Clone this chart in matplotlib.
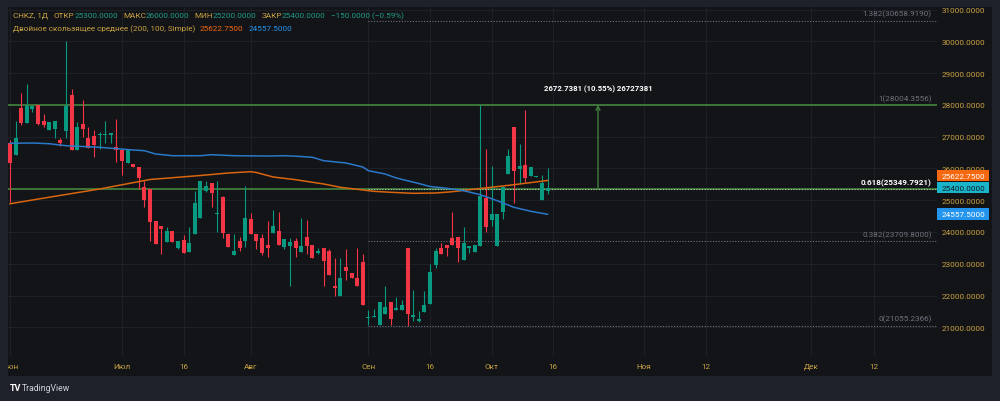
import matplotlib
matplotlib.use("Agg")
import matplotlib.pyplot as plt
import numpy as np
from matplotlib.patches import Rectangle

plt.rcParams['font.family'] = ['Roboto', 'DejaVu Sans']

# ---------------- data ----------------
opens = [26802, 26434, 27904, 27432, 27883, 27999, 27495, 27222, 27243, 26896,
         27190, 28314, 26593, 27400, 26959, 27012, 27043, 27054, 27064, 26687,
         26593, 26183, 26152, 26035, 25405, 25354, 24336, 24189, 23685, 24042,
         23485, 23748, 23380, 23935, 24430, 25281, 25553, 24556, 25102, 23935,
         23286, 23706, 23727, 24399, 23935, 23800, 23590, 23977, 24030, 23536,
         23569, 23706, 23380, 23830, 23590, 23339, 23496, 23391, 22299, 21974,
         22898, 22709, 22541, 23055, 21281, 21313, 21060, 21418, 21785, 21554,
         21554, 23496, 21313, 21208, 21470, 21722, 22960, 23496, 23601, 23800,
         23853, 23128, 23496, 23380, 23569, 25060, 24378, 23569, 24619, 25826,
         27295, 25983, 26110, 25773, 25720, 25018, 25300]
highs = [26896, 27484, 28366, 28660, 27978, 27999, 27705, 27453, 27495, 26959,
         30025, 28503, 27453, 28167, 27295, 27211, 27159, 27495, 27106, 27558,
         26593, 26582, 26152, 26035, 25615, 25354, 24336, 24189, 24147, 24042,
         23727, 23905, 24168, 25301, 25615, 25615, 25553, 25615, 25144, 23935,
         23935, 23830, 25448, 24598, 23935, 23935, 24336, 24703, 24640, 23789,
         23800, 23800, 24441, 24388, 23590, 23485, 23496, 23464, 23181, 23181,
         23464, 22709, 23496, 23307, 21544, 21575, 21785, 22289, 21785, 21942,
         21858, 23496, 22184, 21502, 22153, 22990, 23496, 23643, 23601, 24640,
         23853, 24168, 23548, 23590, 28004, 26613, 26089, 24556, 25405, 26613,
         27295, 26770, 27841, 26035, 25752, 25794, 26000]
lows = [24934, 26434, 27379, 27432, 27768, 27369, 27295, 27211, 26970, 26697,
        26970, 26593, 26593, 27001, 26634, 26371, 26613, 26802, 26802, 26214,
        25804, 26183, 26035, 25354, 24796, 23706, 23621, 23307, 23685, 23685,
        23464, 23328, 23380, 23935, 24430, 25249, 24796, 23998, 23809, 23536,
        23286, 23410, 23515, 23925, 23464, 23286, 23202, 23977, 23580, 23464,
        22310, 23202, 23359, 23307, 23170, 23307, 22310, 22645, 21995, 21974,
        22499, 22541, 22289, 21712, 21060, 21313, 21060, 21418, 21070, 21554,
        21554, 21055, 21187, 21155, 21470, 21722, 22855, 23307, 23254, 23601,
        23066, 23128, 23339, 23380, 23569, 23989, 24199, 23569, 24409, 25826,
        24912, 25543, 25564, 25773, 25720, 25018, 25200]
closes = [26172, 26959, 27421, 27978, 27978, 27390, 27369, 27453, 27495, 26791,
          27978, 26593, 27295, 27243, 26634, 26739, 27064, 27085, 27106, 26593,
          26225, 26582, 26035, 25699, 25018, 24325, 23621, 24093, 24042, 23685,
          23706, 23328, 23643, 24912, 25615, 25448, 25228, 24588, 23977, 23536,
          23391, 23496, 24441, 23925, 23706, 23328, 23485, 24189, 23580, 23789,
          23695, 23485, 23548, 23569, 23170, 23391, 23096, 22645, 22236, 22541,
          22772, 22541, 22289, 21712, 21334, 21355, 21785, 21649, 21260, 21607,
          21701, 21418, 21386, 21260, 21701, 22751, 23391, 23307, 23485, 23601,
          23485, 23643, 23548, 23590, 25134, 24168, 24556, 24556, 25405, 26403,
          25909, 26089, 25690, 26035, 25752, 25543, 25400]

# moving averages (read at sample bars)
ma_slow_idx = [0, 7, 16, 25, 34, 39, 43, 44, 47, 51, 56, 59, 62, 65, 68, 72, 76, 79, 82, 84, 90, 96]
ma_slow = [24890, 25095, 25354, 25653, 25779, 25858, 25899, 25873, 25732, 25647, 25512, 25407,
           25344, 25281, 25250, 25218, 25228, 25269, 25332, 25370, 25489, 25622.75]
ma_fast_idx = [0, 4, 7, 10, 16, 22, 24, 26, 29, 34, 36, 40, 46, 49, 52, 54, 56, 60, 63, 64, 67,
               69, 73, 75, 78, 81, 84, 87, 90, 93, 96]
ma_fast = [26793, 26802, 26780, 26717, 26667, 26582, 26560, 26456, 26402, 26402, 26434, 26402,
           26393, 26402, 26377, 26352, 26245, 26173, 26047, 25930, 25826, 25700, 25527, 25432,
           25377, 25300, 25174, 24985, 24777, 24652, 24557.5]

fib_ratios = ["1.382", "1", "0.618", "0.382", "0"]
fib_prices = [30658.9190, 28004.3556, 25349.7921, 23709.8000, 21055.2366]
fib_start = 64
range_bar = 105
range_text = "2672.7381 (10.55%) 26727381"

tick_pos = [0, 20, 31, 43, 64, 75, 86, 97, 113.2, 124.3, 143, 154.3]
tick_lbl = ["Июн", "Июл", "16", "Авг", "Сен", "16", "Окт", "16", "Ноя", "12", "Дек", "12"]
price_ticks = list(range(21000, 31001, 1000))

last_close = 25400.0
ma_slow_last = 25622.75
ma_fast_last = 24557.5

# ---------------- style ----------------
OUTER = '#1e212a'
PANEL = '#131417'
GRID = '#1d2026'
GOLD = '#c9a243'
TEAL = '#1d9c87'
UP = '#089981'
DN = '#f23645'
LGREEN = '#3f7d3b'
FIBGRAY = '#6f737d'
FS = 5.9

W, H = 1000, 402
fig = plt.figure(figsize=(10, 4.02), dpi=100)
fig.patch.set_facecolor(OUTER)

def fx(px):
    return px / W

def fy(py):
    return 1 - py / H

fig.add_artist(Rectangle((fx(8), fy(377)), fx(992) - fx(8), fy(8) - fy(377),
                         transform=fig.transFigure, facecolor=PANEL,
                         edgecolor='none', zorder=0))

pp = 31.49  # price per pixel
ylo = 31000 - (357 - 10.7) * pp
yhi = 31000 + (10.7 - 8) * pp
xlo, xhi = (8 - 10) / 5.6, (937 - 10) / 5.6

ax = fig.add_axes([fx(8), fy(357), fx(937) - fx(8), fy(8) - fy(357)])
ax.set_facecolor(PANEL)
ax.set_xlim(xlo, xhi)
ax.set_ylim(ylo, yhi)
for s in ax.spines.values():
    s.set_visible(False)

ax.set_yticks(price_ticks)
ax.set_yticklabels([f"{v:.4f}" for v in price_ticks])
ax.yaxis.tick_right()
ax.tick_params(axis='y', length=0, pad=3.6, labelcolor=GOLD, labelsize=FS)
ax.set_xticks(tick_pos)
ax.set_xticklabels([])
ax.tick_params(axis='x', length=0)
ax.grid(True, color=GRID, linewidth=0.8, zorder=0)
ax.set_axisbelow(True)

# candles
O = np.array(opens, float)
Hh = np.array(highs, float)
L = np.array(lows, float)
C = np.array(closes, float)
x = np.arange(len(O))
cols = [UP if c >= o else DN for o, c in zip(O, C)]
ax.vlines(x, L, Hh, colors=cols, linewidth=0.8, zorder=3)
bh = np.maximum(np.abs(C - O), 32)
ax.bar(x, bh, bottom=np.minimum(O, C), width=0.72, color=cols, linewidth=0, zorder=4)

# moving averages
ax.plot(ma_slow_idx, ma_slow, color='#d9650f', linewidth=1.1, zorder=5)
ax.plot(ma_fast_idx, ma_fast, color='#2a78c8', linewidth=1.1, zorder=5)

# horizontal green levels (price range)
ax.axhline(fib_prices[1], color=LGREEN, linewidth=1.3, zorder=2)
ax.axhline(fib_prices[2], color=LGREEN, linewidth=1.3, zorder=2)

# fib levels
for r, p in zip(fib_ratios, fib_prices):
    if r == "1":
        pass
    elif r == "0.618":
        ax.hlines(p, fib_start, xhi, colors='#b9c9b0', linewidth=0.8,
                  linestyles=(0, (1, 1.5)), zorder=3)
    else:
        ax.hlines(p, fib_start, xhi, colors=FIBGRAY, linewidth=0.8,
                  linestyles=(0, (1, 1.5)), zorder=3)
    bold = r == "0.618"
    ax.annotate(f"{r}({p:.4f})", xy=(0.9946, p), xycoords=('axes fraction', 'data'),
                xytext=(0, 2.2), textcoords='offset points', ha='right', va='bottom',
                color='white' if bold else FIBGRAY, fontsize=FS,
                fontweight='bold' if bold else 'normal', zorder=6)

# price range arrow
ax.annotate('', xy=(range_bar, fib_prices[1]), xytext=(range_bar, fib_prices[2]),
            arrowprops=dict(arrowstyle='->', color=LGREEN, lw=1.0, shrinkA=0, shrinkB=0,
                            mutation_scale=7), zorder=4)
ax.annotate(range_text, xy=(range_bar, fib_prices[1]), xytext=(0, 12.2),
            textcoords='offset points', ha='center', va='center', color='white',
            fontsize=5.6, fontweight='bold', zorder=6)

# time axis
axt = fig.add_axes([fx(8), fy(377), fx(937) - fx(8), fy(357) - fy(377)])
axt.set_xlim(xlo, xhi)
axt.set_ylim(0, 1)
axt.axis('off')
for p, t in zip(tick_pos, tick_lbl):
    axt.text(p, 0.52, t, ha='center', va='center', color=GOLD, fontsize=FS, clip_on=True)

# price axis boxes
axp = fig.add_axes([fx(937), fy(357), fx(992) - fx(937), fy(8) - fy(357)])
axp.set_xlim(0, 55)
axp.set_ylim(ylo, yhi)
axp.axis('off')
hh = 5.8 * pp
for val, shift, bg, fg in [(ma_slow_last, 4.8, '#f5680f', 'white'),
                           (last_close, 0.0, '#19b4ca', '#0b1f24'),
                           (ma_fast_last, 0.0, '#2395ee', 'white')]:
    cy = val + shift * pp
    axp.add_patch(Rectangle((0, cy - hh), 52, 2 * hh, facecolor=bg, edgecolor='none', zorder=5))
    axp.text(26, cy, f"{val:.4f}", ha='center', va='center', color=fg, fontsize=FS, zorder=6)

# legend
renderer = fig.canvas.get_renderer()

def chain(parts, y_px):
    xpos = 12.7
    for gap, txt, col in parts:
        xpos += gap
        t = fig.text(fx(xpos), fy(y_px), txt, color=col, fontsize=FS, ha='left', va='center')
        bb = t.get_window_extent(renderer)
        xpos = bb.x1

row1 = [(0, "CHKZ, 1Д", GOLD), (6, "ОТКР", GOLD), (0, f"{opens[-1]:.4f}", TEAL),
        (5, "МАКС", GOLD), (0, f"{highs[-1]:.4f}", TEAL),
        (5, "МИН", GOLD), (0, f"{lows[-1]:.4f}", TEAL),
        (5, "ЗАКР", GOLD), (0, f"{closes[-1]:.4f}", TEAL),
        (5, "−150.0000 (−0.59%)", TEAL)]
row2 = [(0, "Двойное скользящее среднее (200, 100, Simple)", GOLD),
        (5, f"{ma_slow_last:.4f}", '#f5680f'), (5, f"{ma_fast_last:.4f}", '#2395ee')]
chain(row1, 16)
chain(row2, 29)

# logo
fig.text(fx(10), fy(389), "TV", color='white', fontsize=6.5, fontweight='bold',
         ha='left', va='center')
fig.text(fx(22), fy(389), "TradingView", color='#d1d4dc', fontsize=6.2, ha='left', va='center')

fig.savefig("out.png", dpi=100, facecolor=fig.get_facecolor())
